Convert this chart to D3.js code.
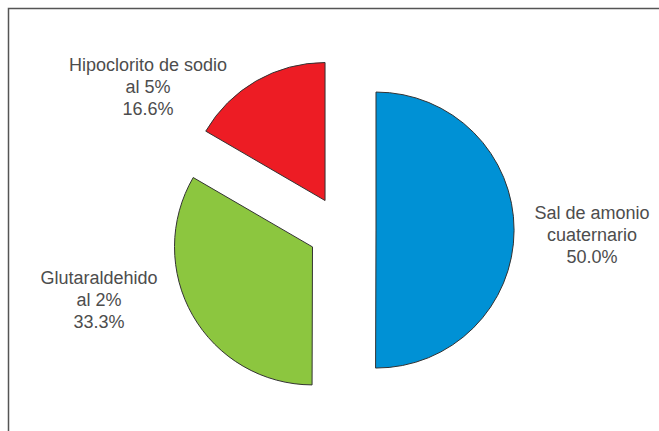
<!DOCTYPE html>
<html>
<head>
<meta charset="utf-8">
<script src="https://cdn.jsdelivr.net/npm/d3@7"></script>
<style>
  body { margin: 0; background: #fff; }
  .lbl { font-family: "Liberation Sans", Arial, sans-serif; font-size: 18px; fill: #4d4d4d; }
</style>
</head>
<body>
<svg id="chart" width="659" height="431"></svg>
<script>
// ------------------------------
// data
// ------------------------------
var categories = ["Sal de amonio cuaternario", "Glutaraldehido al 2%", "Hipoclorito de sodio al 5%"];
var values = [50.0, 33.3, 16.6];
var labelLines = [["Sal de amonio", "cuaternario", "50.0%"],
                  ["Glutaraldehido", "al 2%", "33.3%"],
                  ["Hipoclorito de sodio", "al 5%", "16.6%"]];
var colors = ["#0091d5", "#8cc63f", "#ed1c24"];

// ------------------------------
// layout
// ------------------------------
var width = 659, height = 431;
var cx = 342, cy = 230, radius = 138, explode = 34;
// label centres (x, first baseline) for each slice
var labelPos = [[592, 219], [99, 284], [148, 71]];
var lineStep = 22;

var svg = d3.select("#chart");

// frame (only top and left edges are visible in the picture)
svg.append("path")
    .attr("d", "M8.5," + height + "V8.5H" + width)
    .attr("fill", "none")
    .attr("stroke", "#555")
    .attr("stroke-width", 1.5);

var pie = d3.pie().sort(null).value(function(d){ return d; });
var arc = d3.arc().innerRadius(0).outerRadius(radius);

var g = svg.append("g").attr("transform", "translate(" + cx + "," + cy + ")");

g.selectAll("path.slice")
    .data(pie(values))
  .enter().append("path")
    .attr("class", "slice")
    .attr("d", arc)
    .attr("fill", function(d, i){ return colors[i]; })
    .attr("stroke", "#333")
    .attr("stroke-width", 1)
    .attr("transform", function(d){
        // push every slice outwards along its mid angle
        var a = (d.startAngle + d.endAngle) / 2;
        return "translate(" + (Math.sin(a) * explode) + "," + (-Math.cos(a) * explode) + ")";
    });

// labels
var labels = svg.selectAll("text.lbl")
    .data(labelLines)
  .enter().append("text")
    .attr("class", "lbl")
    .attr("text-anchor", "middle");

labels.selectAll("tspan")
    .data(function(d, i){ return d.map(function(t){ return {t: t, i: i}; }); })
  .enter().append("tspan")
    .attr("x", function(d){ return labelPos[d.i][0]; })
    .attr("y", function(d, j){ return labelPos[d.i][1] + j * lineStep; })
    .text(function(d){ return d.t; });
</script>
</body>
</html>
